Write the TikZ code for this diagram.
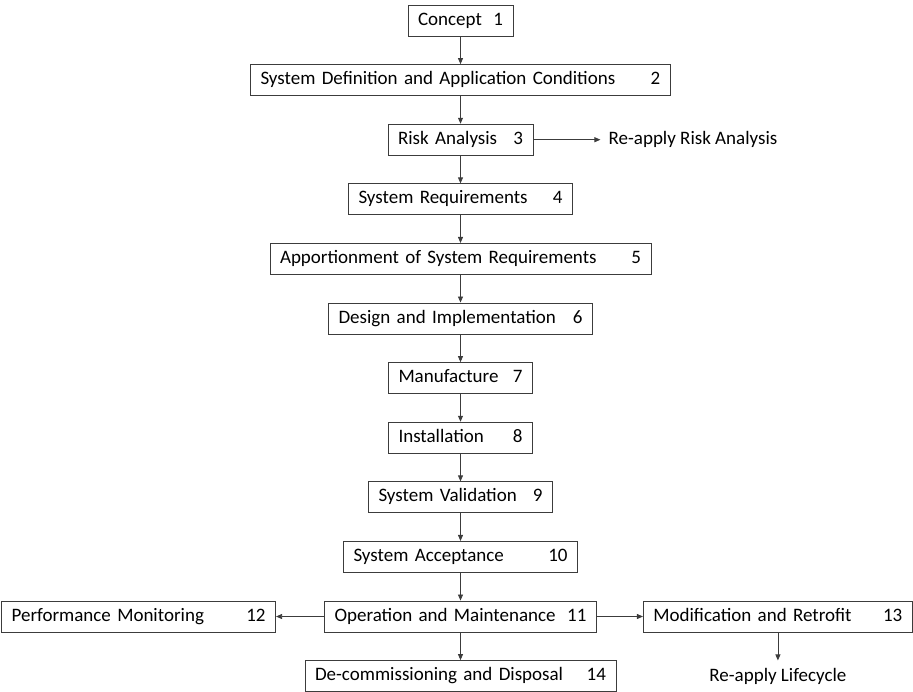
\documentclass[tikz,border=0pt]{standalone}
\usepackage{fontspec}
\setmainfont{Carlito}
\usepackage{tikz}
\usetikzlibrary{arrows.meta,positioning}
\definecolor{Edge}{HTML}{3C3C3C}

\begin{document}
\begin{tikzpicture}[
  x=1pt, y=1pt,
  node distance=27.7pt and 47pt,
  stage/.style={
    draw=Edge,
    line width=0.9pt,
    fill=white,
    minimum height=31pt,
    inner xsep=10pt,
    inner ysep=0pt,
    text height=13pt,
    text depth=4pt,
    font=\fontsize{19}{22}\selectfont
  },
  note/.style={
    inner sep=0pt,
    text height=13pt,
    text depth=4pt,
    font=\fontsize{19}{22}\selectfont
  },
  flow/.style={-{Triangle[length=6pt,width=5pt]},line width=0.8pt,draw=Edge}
]
  \useasboundingbox (0,0) rectangle (913,-691);

  \node[stage, text width=85pt] (concept) at (460.5,-20.5) {Concept\hfill 1};
  \node[stage, text width=400pt, below=of concept] (sysdef) {System Definition and Application Conditions\hfill 2\hspace{3pt}};
  \node[stage, text width=125pt, below=of sysdef] (risk) {Risk Analysis\hfill 3\hspace{1pt}};
  \node[stage, text width=204pt, below=of risk] (sysreq) {System Requirements\hfill 4\hspace{2pt}};
  \node[stage, text width=361pt, below=of sysreq] (apport) {Apportionment of System Requirements\hfill 5\hspace{4pt}};
  \node[stage, text width=244pt, below=of apport] (design) {Design and Implementation\hfill 6\hspace{3pt}};
  \node[stage, text width=124pt, below=of design] (manuf) {Manufacture\hfill 7\hspace{1pt}};
  \node[stage, text width=124pt, below=of manuf] (install) {Installation\hfill 8};
  \node[stage, text width=164pt, below=of install] (valid) {System Validation\hfill 9\hspace{2pt}};
  \node[stage, text width=214pt, below=of valid] (accept) {System Acceptance\hfill 10\hspace{1pt}};
  \node[stage, text width=252pt, below=of accept] (operate) {Operation and Maintenance\hfill 11\hspace{4pt}};
  \node[stage, text width=254pt, left=48pt of operate] (monitor) {Performance Monitoring\hfill 12\hspace{4pt}};
  \node[stage, text width=249pt, right=46pt of operate] (retrofit) {Modification and Retrofit\hfill 13};
  \node[stage, text width=291pt, below=of operate] (dispose) {De-commissioning and Disposal\hfill 14\hspace{2pt}};

  \node[note, right=75pt of risk] (rerisk) {Re-apply Risk Analysis};
  \node[note, below=36pt of retrofit] (relife) {Re-apply Lifecycle};

  \draw[flow] (concept) -- (sysdef);
  \draw[flow] (sysdef) -- (risk);
  \draw[flow] (risk) -- (sysreq);
  \draw[flow] (sysreq) -- (apport);
  \draw[flow] (apport) -- (design);
  \draw[flow] (design) -- (manuf);
  \draw[flow] (manuf) -- (install);
  \draw[flow] (install) -- (valid);
  \draw[flow] (valid) -- (accept);
  \draw[flow] (accept) -- (operate);
  \draw[flow] (operate) -- (dispose);
  \draw[flow] (operate) -- (monitor);
  \draw[flow] (operate) -- (retrofit);
  \draw[flow, shorten >=8pt] (risk) -- (rerisk);
  \draw[flow, shorten >=8pt] (retrofit) -- (relife);
\end{tikzpicture}
\end{document}
